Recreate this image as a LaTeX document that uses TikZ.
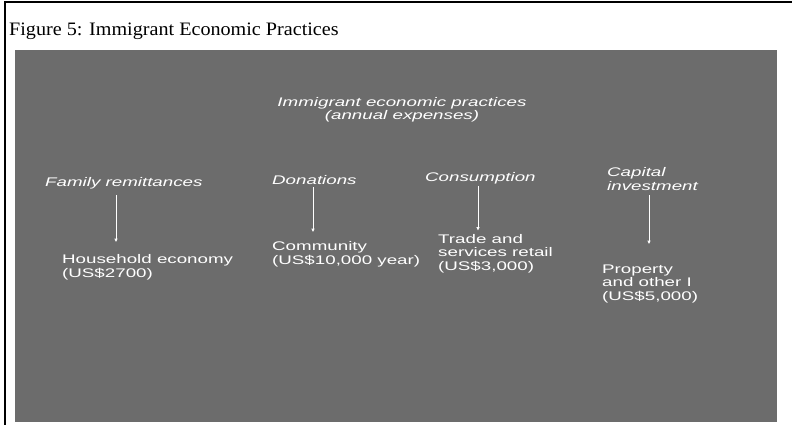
\documentclass[tikz,border=0pt]{standalone}
\usepackage{fontspec}
\setmainfont{Liberation Serif}
\newfontfamily\titlefont[FakeStretch=1.06]{Liberation Serif}
\newfontfamily\widesans[FakeStretch=1.5]{Liberation Sans}
\usetikzlibrary{arrows.meta}
\definecolor{noisegray}{RGB}{108,108,108}

\begin{document}
\begin{tikzpicture}[x=1pt, y=-1pt,
    wtext/.style={text=white, inner sep=0pt, anchor=base west, align=left,
        font=\widesans\fontsize{12.5}{13.5}\selectfont},
    head/.style={wtext, font=\widesans\itshape\fontsize{12.5}{13.5}\selectfont},
    flow/.style={white, line width=0.8pt, -{Latex[length=3.5pt,width=3.5pt]}}]
    \useasboundingbox (0,0) rectangle (792,425);
    \draw[line width=1.5pt] (792,2) -- (5,2) -- (5,425);
    \node[anchor=base west, inner sep=0pt, font=\titlefont\fontsize{19}{22}\selectfont]
        (title) at (9,36) {Figure 5: Immigrant Economic Practices};
    \fill[noisegray] (15,50) rectangle (777,422);
    % headings (base = last line)
    \node[head, anchor=base, align=center] (top) at (402,120)
        {Immigrant economic practices\\(annual expenses)};
    \node[head] (fam) at (45,186) {Family remittances};
    \node[head] (don) at (272,184) {Donations};
    \node[head] (con) at (425,181) {Consumption};
    \node[head] (cap) at (607,190) {Capital\\investment};
    % where the money goes
    \node[wtext] (hh) at (62,277) {Household economy\\(US\$2700)};
    \node[wtext] (com) at (272,264) {Community\\(US\$10,000 year)};
    \node[wtext] (trade) at (438,270) {Trade and\\services retail\\(US\$3,000)};
    \node[wtext] (prop) at (602,300) {Property\\and other I\\(US\$5,000)};
    \foreach \a/\b/\x/\s/\e in {fam/hh/116/6/12, don/com/313/3/9,
                                con/trade/478/2/3, cap/prop/649/5/20} {
        \draw[flow, shorten <=\s pt, shorten >=\e pt] (\a.south -| \x,0) -- (\b.north -| \x,0);
    }
\end{tikzpicture}
\end{document}
